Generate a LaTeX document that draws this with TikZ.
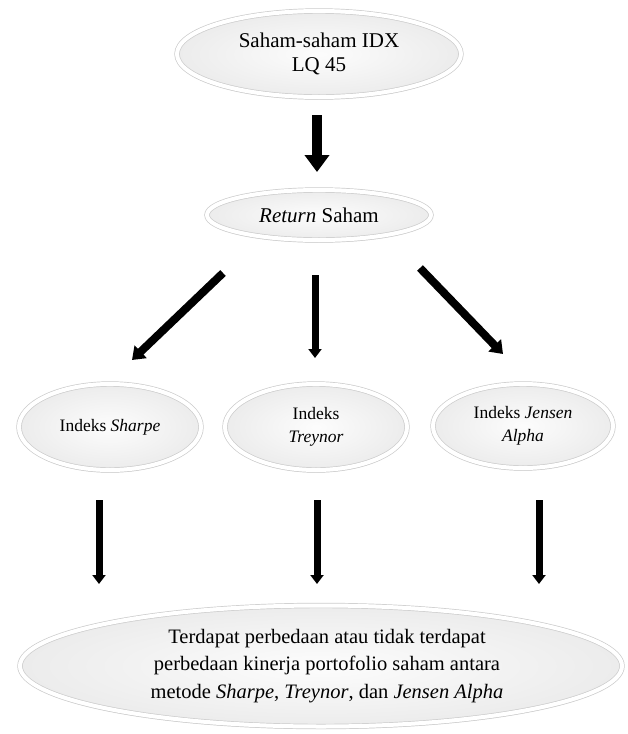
\documentclass[tikz,border=0pt]{standalone}
\usepackage{fontspec}
\setmainfont{Liberation Serif}
\usetikzlibrary{shapes.geometric,shadows,arrows.meta}
\begin{document}
\begin{tikzpicture}[x=1pt,y=-1pt,
  oval/.style={ellipse, inner sep=0pt, align=center,
    draw=gray!40, line width=0.7pt, double=white, double distance=4pt,
    inner color=gray!2, outer color=gray!15,
    drop shadow={opacity=0.3, shadow xshift=0pt, shadow yshift=-2.5pt}},
  bigfont/.style={font=\fontsize{21}{24}\selectfont},
  midfont/.style={font=\fontsize{17.5}{23}\selectfont},
  botfont/.style={font=\fontsize{20.5}{27.5}\selectfont},
  bigarrow/.style={line width=10pt, -{Triangle[width=24pt,length=17pt]}},
  diagarrow/.style={line width=8pt, -{Triangle[width=17pt,length=12pt]}},
  smallarrow/.style={line width=7pt, -{Triangle[width=13pt,length=9pt]}}]
\useasboundingbox (0,0) rectangle (627,734);
\fill[white] (0,0) rectangle (627,734);

\node[oval, bigfont, minimum width=284pt, minimum height=86pt] (top) at (319,54) {Saham-saham IDX\\LQ 45};
\node[oval, bigfont, minimum width=224pt, minimum height=50pt] (ret) at (319,215) {\textit{Return} Saham};
\node[oval, midfont, minimum width=182pt, minimum height=86pt] (sha) at (110,427) {Indeks \textit{Sharpe}};
\node[oval, midfont, minimum width=182pt, minimum height=86pt] (tre) at (316,427) {Indeks\\\textit{Treynor}};
\node[oval, midfont, minimum width=180pt, minimum height=84pt] (jen) at (523,426) {Indeks \textit{Jensen}\\\textit{Alpha}};
\node[oval, botfont, minimum width=602pt, minimum height=121pt] (res) at (321,666) {\hspace*{12pt}Terdapat perbedaan atau tidak terdapat\\\hspace*{12pt}perbedaan kinerja portofolio saham antara\\\hspace*{12pt}metode \textit{Sharpe}, \textit{Treynor}, dan \textit{Jensen Alpha}};

% arrow end points
\coordinate (a0s) at (317,115); \coordinate (a0e) at (317,172);
\coordinate (a1s) at (223,273); \coordinate (a1e) at (132,360);
\coordinate (a2s) at (315,275); \coordinate (a2e) at (315,358);
\coordinate (a3s) at (420,268); \coordinate (a3e) at (503,354);
\coordinate (b1s) at (99,500);  \coordinate (b1e) at (99,584);
\coordinate (b2s) at (317,500); \coordinate (b2e) at (317,584);
\coordinate (b3s) at (539,500); \coordinate (b3e) at (539,584);

\draw[bigarrow] (a0s) -- (a0e);
\draw[diagarrow] (a1s) -- (a1e);
\draw[smallarrow] (a2s) -- (a2e);
\draw[diagarrow] (a3s) -- (a3e);
\draw[smallarrow] (b1s) -- (b1e);
\draw[smallarrow] (b2s) -- (b2e);
\draw[smallarrow] (b3s) -- (b3e);
\end{tikzpicture}
\end{document}
